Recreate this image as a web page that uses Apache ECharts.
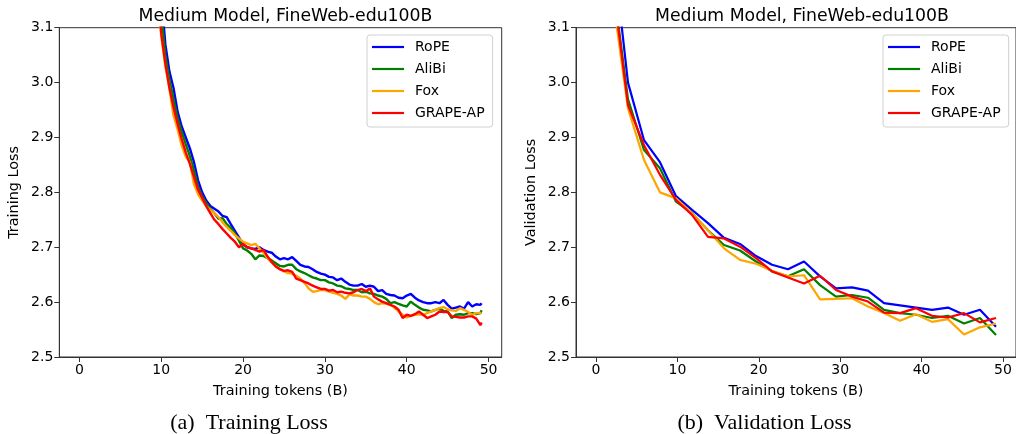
<!DOCTYPE html>
<html>
<head>
<meta charset="utf-8">
<script src="https://cdn.jsdelivr.net/npm/echarts@6/dist/echarts.min.js"></script>
<style>
html,body{margin:0;padding:0;background:#fff;}
#chart{width:1016px;height:434px;}
</style>
</head>
<body>
<div id="chart"></div>
<script>
const seriesNames = ['RoPE', 'AliBi', 'Fox', 'GRAPE-AP'];
const seriesColors = ['#0000ff', '#008000', '#ffa500', '#ff0000'];
const xTicks = [0, 10, 20, 30, 40, 50];
const yTicks = [2.5, 2.6, 2.7, 2.8, 2.9, 3.0, 3.1];

const trainTokens = [9,9.5,10,10.5,11,11.5,12,12.5,13,13.5,14,14.5,15,15.5,16,16.5,17,17.5,18,18.5,19,19.5,20,20.5,21,21.5,22,22.5,23,23.5,24,24.5,25,25.5,26,26.5,27,27.5,28,28.5,29,29.5,30,30.5,31,31.5,32,32.5,33,33.5,34,34.5,35,35.5,36,36.5,37,37.5,38,38.5,39,39.5,40,40.5,41,41.5,42,42.5,43,43.5,44,44.5,45,45.5,46,46.5,47,47.5,48,48.5,49,49.15];

const trainRoPE = [3.36,3.26,3.16,3.07,3.02,2.99,2.947,2.92,2.9,2.88,2.855,2.822,2.8,2.785,2.775,2.77,2.765,2.757,2.755,2.742,2.73,2.718,2.705,2.7,2.698,2.697,2.7,2.695,2.692,2.69,2.683,2.678,2.68,2.678,2.682,2.675,2.668,2.665,2.664,2.66,2.655,2.652,2.65,2.646,2.645,2.64,2.643,2.637,2.632,2.63,2.63,2.633,2.628,2.63,2.628,2.62,2.622,2.615,2.613,2.612,2.608,2.607,2.612,2.615,2.608,2.603,2.6,2.598,2.598,2.6,2.598,2.604,2.595,2.588,2.59,2.592,2.588,2.6,2.592,2.596,2.595,2.598];

const trainAliBi = [3.32,3.22,3.125,3.05,3.005,2.97,2.935,2.91,2.888,2.866,2.84,2.81,2.793,2.78,2.77,2.762,2.752,2.753,2.742,2.735,2.725,2.712,2.698,2.694,2.688,2.678,2.685,2.684,2.68,2.676,2.671,2.666,2.665,2.668,2.668,2.66,2.656,2.653,2.649,2.645,2.643,2.64,2.64,2.636,2.634,2.63,2.629,2.625,2.624,2.622,2.622,2.618,2.619,2.616,2.615,2.612,2.61,2.606,2.598,2.6,2.597,2.594,2.592,2.601,2.595,2.59,2.586,2.585,2.583,2.586,2.588,2.584,2.583,2.571,2.577,2.578,2.577,2.58,2.58,2.578,2.58,2.585];

const trainFox = [3.27,3.17,3.085,3.03,2.99,2.94,2.915,2.885,2.865,2.855,2.815,2.797,2.785,2.775,2.768,2.762,2.755,2.745,2.737,2.73,2.722,2.716,2.71,2.707,2.704,2.706,2.698,2.69,2.68,2.672,2.665,2.66,2.656,2.653,2.652,2.648,2.643,2.635,2.625,2.619,2.62,2.622,2.622,2.619,2.617,2.615,2.612,2.606,2.614,2.612,2.612,2.61,2.61,2.606,2.6,2.596,2.598,2.597,2.595,2.59,2.583,2.577,2.572,2.575,2.577,2.578,2.577,2.58,2.583,2.586,2.589,2.591,2.587,2.585,2.584,2.589,2.586,2.582,2.577,2.58,2.58,2.581];

const trainGRAPE = [3.3,3.19,3.09,3.035,2.99,2.955,2.925,2.897,2.873,2.852,2.828,2.805,2.79,2.775,2.762,2.75,2.742,2.733,2.725,2.717,2.71,2.7,2.706,2.7,2.698,2.695,2.692,2.695,2.683,2.673,2.665,2.66,2.657,2.658,2.655,2.643,2.64,2.637,2.634,2.63,2.627,2.624,2.624,2.621,2.622,2.618,2.619,2.617,2.616,2.618,2.622,2.624,2.62,2.625,2.61,2.605,2.601,2.598,2.595,2.592,2.586,2.571,2.577,2.575,2.578,2.583,2.577,2.571,2.574,2.577,2.583,2.582,2.582,2.574,2.573,2.572,2.572,2.574,2.574,2.57,2.558,2.563];

const valTokens = [1.97,3.93,5.9,7.86,9.83,11.8,13.76,15.73,17.7,19.66,21.63,23.59,25.56,27.53,29.49,31.46,33.42,35.39,37.36,39.32,41.29,43.25,45.22,47.18,49.15];

const valRoPE = [3.26,3.0,2.895,2.855,2.793,2.768,2.744,2.717,2.706,2.684,2.668,2.66,2.674,2.647,2.625,2.627,2.621,2.598,2.594,2.59,2.586,2.59,2.577,2.586,2.555];
const valAliBi = [3.195,2.97,2.877,2.844,2.783,2.762,2.731,2.704,2.694,2.674,2.656,2.647,2.66,2.631,2.61,2.613,2.608,2.586,2.58,2.577,2.571,2.575,2.561,2.571,2.54];
const valFox = [3.165,2.953,2.859,2.8,2.789,2.762,2.731,2.698,2.677,2.67,2.657,2.647,2.649,2.605,2.606,2.607,2.592,2.58,2.566,2.578,2.564,2.569,2.541,2.554,2.561];
const valGRAPE = [3.19,2.959,2.886,2.832,2.786,2.759,2.719,2.716,2.701,2.68,2.656,2.645,2.634,2.648,2.622,2.61,2.601,2.581,2.58,2.589,2.575,2.572,2.58,2.563,2.571];

const trainSets = [trainRoPE, trainAliBi, trainFox, trainGRAPE];
const valSets = [valRoPE, valAliBi, valFox, valGRAPE];

const FONT = 'DejaVu Sans';
const chart = echarts.init(document.getElementById('chart'), null, {renderer: 'canvas'});

function pairs(xs, ys) { return xs.map((x, i) => [x, ys[i]]); }

function xAxisFor(gridIndex) {
  return {
    type: 'value', gridIndex: gridIndex, min: -2.4575, max: 51.6075,
    name: 'Training tokens (B)', nameLocation: 'middle', nameGap: 27,
    nameTextStyle: {fontFamily: FONT, fontSize: 14.4, color: '#000'},
    axisLine: {show: true, onZero: false, lineStyle: {color: '#333', width: 1}},
    axisTick: {show: true, length: 5, lineStyle: {color: '#333', width: 1}, customValues: xTicks},
    axisLabel: {show: true, fontFamily: FONT, fontSize: 14, color: '#000', margin: 6, customValues: xTicks,
      formatter: v => String(v)},
    splitLine: {show: false}
  };
}
function yAxisFor(gridIndex, name) {
  return {
    type: 'value', gridIndex: gridIndex, min: 2.5, max: 3.1, interval: 0.1,
    name: name, nameLocation: 'middle', nameGap: 38, nameRotate: 90,
    nameTextStyle: {fontFamily: FONT, fontSize: 14.4, color: '#000'},
    axisLine: {show: true, onZero: false, lineStyle: {color: '#333', width: 1}},
    axisTick: {show: true, length: 5, lineStyle: {color: '#333', width: 1}, customValues: yTicks},
    axisLabel: {show: true, fontFamily: FONT, fontSize: 14, color: '#000', margin: 6, customValues: yTicks,
      formatter: v => Number(v).toFixed(1)},
    splitLine: {show: false}
  };
}

const series = [];
seriesNames.forEach((n, i) => {
  series.push({
    name: n, type: 'line', xAxisIndex: 0, yAxisIndex: 0, symbol: 'none', clip: true,
    data: pairs(trainTokens, trainSets[i]),
    lineStyle: {color: seriesColors[i], width: 2.4}, itemStyle: {color: seriesColors[i]},
    z: 2 + i, animation: false
  });
});
seriesNames.forEach((n, i) => {
  series.push({
    name: n, type: 'line', xAxisIndex: 1, yAxisIndex: 1, symbol: 'none', clip: true,
    data: pairs(valTokens, valSets[i]),
    lineStyle: {color: seriesColors[i], width: 2.2}, itemStyle: {color: seriesColors[i]},
    z: 2 + i, animation: false
  });
});

function legendAt(left) {
  return {
    show: true, orient: 'vertical', left: left, top: 35,
    data: seriesNames.map(n => ({name: n, icon: 'rect'})),
    itemWidth: 32, itemHeight: 2.2, itemGap: 8,
    padding: [5, 8, 7, 5],
    backgroundColor: 'rgba(255,255,255,0.8)', borderColor: '#d0d0d0', borderWidth: 1, borderRadius: 3,
    textStyle: {fontFamily: FONT, fontSize: 14, color: '#000', lineHeight: 14, padding: [0, 0, 0, 6]},
    selectedMode: false, z: 10
  };
}

const option = {
  backgroundColor: '#fff',
  animation: false,
  title: [
    {text: 'Medium Model, FineWeb-edu100B', left: 280.5, top: 3, textAlign: 'center',
      textStyle: {fontFamily: FONT, fontSize: 17.3, fontWeight: 'normal', color: '#000'}},
    {text: 'Medium Model, FineWeb-edu100B', left: 797, top: 3, textAlign: 'center',
      textStyle: {fontFamily: FONT, fontSize: 17.3, fontWeight: 'normal', color: '#000'}}
  ],
  grid: [
    {left: 59.3, top: 27.7, width: 442.4, height: 329.3, show: true, borderColor: '#333', borderWidth: 1, containLabel: false},
    {left: 576, top: 27.7, width: 442.4, height: 329.3, show: true, borderColor: '#333', borderWidth: 1, containLabel: false}
  ],
  xAxis: [xAxisFor(0), xAxisFor(1)],
  yAxis: [yAxisFor(0, 'Training Loss'), yAxisFor(1, 'Validation Loss')],
  legend: [legendAt(367), legendAt(883)],
  series: series,
  graphic: [
    {type: 'text', style: {text: '(a)  Training Loss', x: 249, y: 423, align: 'center', verticalAlign: 'middle',
      font: '22px "Liberation Serif", serif', fill: '#000'}},
    {type: 'text', style: {text: '(b)  Validation Loss', x: 764.5, y: 423, align: 'center', verticalAlign: 'middle',
      font: '22px "Liberation Serif", serif', fill: '#000'}}
  ]
};
chart.setOption(option);
</script>
</body>
</html>
